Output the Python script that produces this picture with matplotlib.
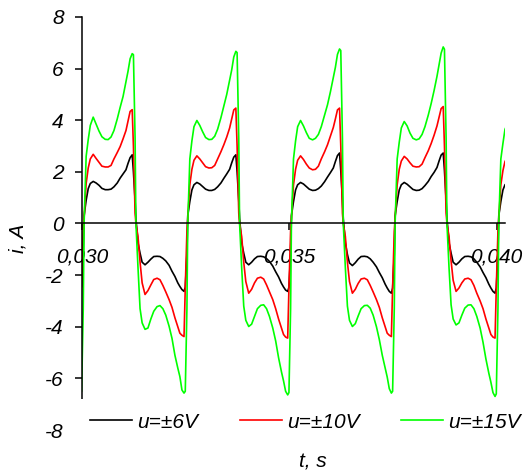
import numpy as np
import matplotlib
matplotlib.use("Agg")
import matplotlib.pyplot as plt

plt.rcParams['font.family'] = ['Liberation Sans', 'DejaVu Sans']
plt.rcParams['font.style'] = 'italic'
plt.rcParams['axes.unicode_minus'] = False

# start of each half-cycle (s); the first entry only contributes its tail
half_start = [0.02880, 0.03005, 0.03130, 0.03255, 0.03380,
              0.03505, 0.03630, 0.03755, 0.03880, 0.04005]
# sample positions inside a half-cycle (ms)
off_ms = [0, 0.05, 0.10, 0.15, 0.22, 0.29, 0.36, 0.43, 0.51, 0.58, 0.65,
          0.72, 0.80, 0.87, 0.94, 1.01, 1.06, 1.11, 1.16, 1.19, 1.23]

# current, A  (u = ±6 V)
i_6v = [
    [-2.6, -2.45, -1.2],
    [0.3, 0.9, 1.35, 1.55, 1.63, 1.57, 1.48, 1.36, 1.31, 1.31, 1.33, 1.42, 1.57, 1.76, 1.92, 2.08, 2.33, 2.55, 2.66, 2.0, 0.9],
    [0.2, -0.75, -1.15, -1.5, -1.6, -1.5, -1.38, -1.28, -1.27, -1.28, -1.35, -1.45, -1.62, -1.85, -2.05, -2.3, -2.44, -2.56, -2.63, -2.47, -1.2],
    [0.3, 0.85, 1.3, 1.5, 1.59, 1.53, 1.43, 1.33, 1.28, 1.28, 1.32, 1.42, 1.57, 1.75, 1.92, 2.1, 2.35, 2.57, 2.66, 2.0, 0.9],
    [0.2, -0.75, -1.15, -1.5, -1.6, -1.5, -1.37, -1.28, -1.27, -1.29, -1.36, -1.47, -1.65, -1.87, -2.07, -2.32, -2.46, -2.58, -2.63, -2.47, -1.2],
    [0.3, 0.85, 1.3, 1.5, 1.59, 1.53, 1.43, 1.33, 1.28, 1.29, 1.35, 1.45, 1.62, 1.8, 1.97, 2.15, 2.4, 2.63, 2.73, 2.05, 0.9],
    [0.2, -0.75, -1.2, -1.53, -1.63, -1.52, -1.38, -1.28, -1.27, -1.29, -1.37, -1.5, -1.68, -1.9, -2.1, -2.35, -2.5, -2.63, -2.7, -2.5, -1.2],
    [0.3, 0.85, 1.3, 1.5, 1.59, 1.52, 1.42, 1.32, 1.28, 1.29, 1.35, 1.47, 1.63, 1.82, 1.98, 2.17, 2.42, 2.65, 2.73, 2.05, 0.9],
    [0.2, -0.75, -1.15, -1.5, -1.6, -1.5, -1.37, -1.28, -1.27, -1.29, -1.37, -1.5, -1.68, -1.9, -2.1, -2.35, -2.5, -2.63, -2.7, -2.5, -1.2],
    [0.3, 0.85, 1.3, 1.5, 1.6, 1.55],
]

# current, A  (u = ±10 V)
i_10v = [
    [-4.35, -2.5, -0.3],
    [0.2, 1.55, 2.15, 2.5, 2.68, 2.52, 2.37, 2.22, 2.19, 2.19, 2.25, 2.5, 2.75, 2.98, 3.28, 3.6, 3.98, 4.34, 4.41, 3.0, 0.4],
    [0.0, -0.5, -1.5, -2.3, -2.75, -2.6, -2.38, -2.17, -2.12, -2.18, -2.4, -2.65, -2.95, -3.25, -3.65, -4.0, -4.25, -4.33, -4.38, -2.5, -0.3],
    [0.2, 1.5, 2.1, 2.45, 2.62, 2.5, 2.35, 2.2, 2.15, 2.16, 2.25, 2.5, 2.78, 3.05, 3.35, 3.7, 4.05, 4.4, 4.47, 3.0, 0.4],
    [0.0, -0.5, -1.5, -2.25, -2.7, -2.55, -2.3, -2.12, -2.08, -2.15, -2.38, -2.65, -2.95, -3.3, -3.7, -4.05, -4.3, -4.4, -4.44, -2.5, -0.3],
    [0.2, 1.5, 2.1, 2.45, 2.62, 2.48, 2.3, 2.15, 2.08, 2.1, 2.22, 2.5, 2.78, 3.05, 3.38, 3.72, 4.05, 4.4, 4.47, 3.0, 0.4],
    [0.0, -0.5, -1.5, -2.25, -2.7, -2.55, -2.32, -2.15, -2.12, -2.18, -2.4, -2.65, -2.95, -3.25, -3.65, -4.0, -4.25, -4.33, -4.38, -2.5, -0.3],
    [0.2, 1.5, 2.1, 2.42, 2.6, 2.5, 2.35, 2.22, 2.19, 2.2, 2.3, 2.55, 2.82, 3.1, 3.42, 3.78, 4.12, 4.45, 4.53, 3.0, 0.4],
    [0.0, -0.5, -1.45, -2.2, -2.63, -2.5, -2.3, -2.15, -2.12, -2.18, -2.4, -2.7, -3.0, -3.3, -3.7, -4.05, -4.3, -4.4, -4.44, -2.5, -0.3],
    [0.2, 1.5, 2.05, 2.4, 2.6, 2.5],
]

# current, A  (u = ±15 V)
i_15v = [
    [-6.6, -6.5, -3.3],
    [0.0, 2.6, 3.25, 3.8, 4.12, 3.85, 3.58, 3.36, 3.26, 3.25, 3.35, 3.6, 4.05, 4.5, 4.92, 5.48, 5.9, 6.38, 6.58, 6.54, 3.3],
    [0.0, -1.7, -3.3, -3.85, -4.1, -4.05, -3.7, -3.4, -3.22, -3.18, -3.3, -3.55, -3.98, -4.45, -5.1, -5.6, -5.93, -6.45, -6.57, -6.5, -3.3],
    [0.0, 2.5, 3.2, 3.75, 3.99, 3.8, 3.55, 3.33, 3.25, 3.26, 3.38, 3.65, 4.1, 4.55, 5.0, 5.55, 5.95, 6.45, 6.67, 6.62, 3.3],
    [0.0, -1.7, -3.2, -3.75, -3.99, -3.9, -3.6, -3.3, -3.17, -3.15, -3.3, -3.6, -4.05, -4.55, -5.2, -5.75, -6.1, -6.5, -6.64, -6.55, -3.3],
    [0.0, 2.5, 3.2, 3.75, 3.99, 3.78, 3.52, 3.3, 3.24, 3.3, 3.45, 3.75, 4.2, 4.6, 5.1, 5.65, 6.05, 6.55, 6.76, 6.7, 3.3],
    [0.0, -1.7, -3.2, -3.75, -3.99, -3.88, -3.58, -3.3, -3.18, -3.17, -3.28, -3.55, -4.0, -4.5, -5.1, -5.6, -5.95, -6.4, -6.57, -6.5, -3.3],
    [0.0, 2.5, 3.15, 3.7, 3.95, 3.78, 3.5, 3.3, 3.24, 3.28, 3.45, 3.75, 4.2, 4.65, 5.15, 5.7, 6.15, 6.6, 6.84, 6.75, 3.3],
    [0.0, -1.7, -3.15, -3.7, -3.93, -3.85, -3.55, -3.28, -3.16, -3.15, -3.3, -3.6, -4.05, -4.6, -5.25, -5.8, -6.15, -6.55, -6.7, -6.6, -3.3],
    [0.0, 2.5, 3.1, 3.65, 3.89, 3.75],
]

series_labels = ['u=±6V', 'u=±10V', 'u=±15V']
series_colors = ['black', '#ff0000', '#00ff00']

x_ticks = [0.030, 0.035, 0.040]
x_ticklabels = ['0,030', '0,035', '0,040']
y_ticks = [8, 6, 4, 2, 0, -2, -4, -6, -8]
y_ticklabels = ['8', '6', '4', '2', '0', '-2', '-4', '-6', '-8']


def trace(segments):
    t, cur = [], []
    for k, vals in enumerate(segments):
        offs = off_ms[-len(vals):] if k == 0 else off_ms[:len(vals)]
        t += [half_start[k] + o / 1000 for o in offs]
        cur += vals
    return np.array(t), np.array(cur)


fig = plt.figure(figsize=(5.25, 4.73), dpi=100)
ax = fig.add_axes([0.1562, 0.0909, 0.8057, 0.8732])

for data, lab, col in zip([i_6v, i_10v, i_15v], series_labels, series_colors):
    t, cur = trace(data)
    ax.plot(t, cur, color=col, lw=1.2, label=lab)

ax.set_xlim(0.030, 0.0402)
ax.set_ylim(-8, 8)

ax.spines['top'].set_visible(False)
ax.spines['right'].set_visible(False)
ax.spines['bottom'].set_position(('data', 0))
for s in ('left', 'bottom'):
    ax.spines[s].set_linewidth(1.1)

ax.set_xticks(x_ticks)
ax.set_xticklabels(x_ticklabels)
ax.set_yticks(y_ticks)
ax.set_yticklabels(y_ticklabels)
ax.tick_params(axis='both', direction='out', length=5, width=1.1, labelsize=15)
ax.tick_params(axis='x', pad=12)
ax.tick_params(axis='y', pad=8)
# the lowest y tick sits under the legend
for tk in ax.yaxis.get_major_ticks():
    if tk.get_loc() == -8:
        tk.tick1line.set_visible(False)

fig.text(17.5 / 525, 1 - 238 / 473, 'i, A', rotation=90, fontsize=15,
         ha='center', va='center')
fig.text(313 / 525, 1 - 462 / 473, 't, s', fontsize=15, ha='center', va='center')

leg = ax.legend(loc='center left', bbox_to_anchor=(76.5 / 525, 1 - 422 / 473),
                bbox_transform=fig.transFigure, ncol=3, fontsize=15,
                handlelength=2.02, handletextpad=0.24, columnspacing=2.0,
                borderpad=0.65, borderaxespad=0, fancybox=False,
                framealpha=1, facecolor='white', edgecolor='none')
leg.set_zorder(10)

fig.savefig('out.png', dpi=100)
